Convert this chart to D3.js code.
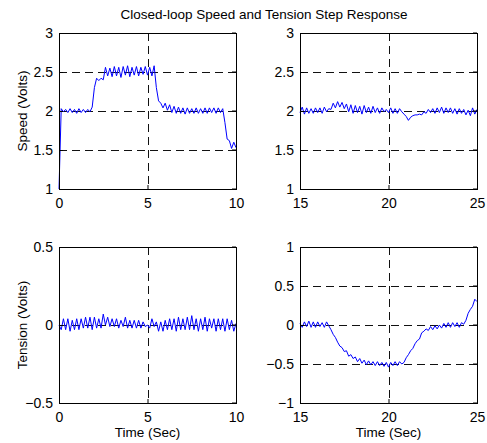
<!DOCTYPE html>
<html>
<head>
  <meta charset="utf-8">
  <title>Closed-loop Speed and Tension Step Response</title>
  <script src="https://d3js.org/d3.v7.min.js"></script>
  <style>
    body { margin: 0; background: #fff; }
    text { font-family: "Liberation Sans", Arial, sans-serif; fill: #000; }
    .grid line { stroke: #111; stroke-dasharray: 8,5; }
  </style>
</head>
<body>
<svg id="chart" width="487" height="443"></svg>
<script>
  // sample spacing (sec) for every trace
  var dt = 0.125;

  // speed, 0..10 s
  var speedA = [1.00, 2.03, 1.99, 2.02, 1.98, 2.03, 1.98, 2.02, 1.97, 2.03,
    1.98, 2.02, 1.98, 2.02, 1.99, 2.05, 2.30, 2.42, 2.39, 2.42,
    2.40, 2.56, 2.45, 2.55, 2.44, 2.57, 2.45, 2.56, 2.43, 2.57,
    2.46, 2.58, 2.44, 2.56, 2.46, 2.57, 2.45, 2.56, 2.47, 2.57,
    2.46, 2.56, 2.45, 2.58, 2.30, 2.13, 2.10, 2.04, 2.10, 2.01,
    2.08, 1.98, 2.06, 1.97, 2.05, 1.97, 2.04, 1.96, 2.04, 1.97,
    2.03, 1.97, 2.04, 1.97, 2.03, 1.97, 2.04, 1.97, 2.04, 1.98,
    2.04, 1.97, 2.04, 1.98, 2.03, 1.85, 1.64, 1.62, 1.52, 1.60, 1.53];

  // speed, 15..25 s
  var speedB = [1.98, 2.05, 1.96, 2.04, 1.97, 2.03, 1.97, 2.04, 1.98, 2.04,
    1.97, 2.05, 1.99, 2.03, 2.02, 2.10, 2.04, 2.12, 2.05, 2.11,
    2.03, 2.09, 1.99, 2.08, 1.97, 2.07, 1.98, 2.06, 1.96, 2.07,
    1.98, 2.05, 1.97, 2.06, 1.98, 2.04, 1.97, 2.04, 1.99, 2.02,
    1.98, 2.04, 1.97, 2.03, 1.97, 2.03, 1.99, 1.96, 1.93, 1.88,
    1.92, 1.94, 1.95, 1.95, 1.96, 1.95, 1.99, 1.97, 2.02, 1.98,
    2.03, 1.97, 2.04, 1.98, 2.05, 1.97, 2.04, 1.98, 2.04, 1.97,
    2.03, 1.96, 2.03, 1.97, 2.02, 1.95, 2.01, 1.94, 2.04, 1.96, 2.02];

  // tension, 0..10 s
  var tensionA = [0.00, -0.03, 0.04, -0.03, 0.04, -0.04, 0.03, -0.03, 0.04, -0.03,
    0.04, -0.02, 0.05, -0.02, 0.05, -0.03, 0.05, -0.02, 0.04, -0.02,
    0.07, 0.00, 0.05, -0.01, 0.04, -0.01, 0.04, -0.02, 0.03, -0.01,
    0.05, -0.02, 0.03, -0.02, 0.03, -0.02, 0.03, -0.02, 0.02, -0.01,
    0.00, -0.02, 0.04, -0.01, 0.02, -0.04, 0.02, -0.04, 0.03, -0.03,
    0.04, -0.03, 0.04, -0.04, 0.05, -0.03, 0.04, -0.03, 0.05, -0.03,
    0.06, -0.03, 0.04, -0.04, 0.04, -0.03, 0.05, -0.04, 0.04, -0.02,
    0.04, -0.04, 0.04, -0.03, 0.04, -0.04, 0.04, -0.03, 0.03, -0.04, 0.01];

  // tension, 15..25 s
  var tensionB = [0.02, -0.03, 0.04, -0.02, 0.05, -0.03, 0.04, -0.03, 0.04, -0.02,
    0.03, -0.03, 0.04, -0.01, -0.06, -0.12, -0.16, -0.22, -0.27, -0.29,
    -0.34, -0.33, -0.40, -0.38, -0.43, -0.41, -0.47, -0.43, -0.49, -0.45,
    -0.51, -0.46, -0.51, -0.47, -0.52, -0.47, -0.52, -0.48, -0.53, -0.48,
    -0.54, -0.48, -0.52, -0.47, -0.52, -0.47, -0.50, -0.48, -0.42, -0.38,
    -0.33, -0.30, -0.24, -0.20, -0.18, -0.10, -0.08, -0.05, -0.07, -0.02,
    -0.06, -0.01, -0.05, 0.00, -0.04, 0.02, -0.03, 0.03, -0.03, 0.03,
    -0.02, 0.03, -0.03, 0.03, 0.01, 0.06, 0.15, 0.20, 0.24, 0.33, 0.30];

  var xTicksA = [0, 5, 10];
  var xTicksB = [15, 20, 25];
  var speedTicks = [1, 1.5, 2, 2.5, 3];
  var tensionTicksA = [-0.5, 0, 0.5];
  var tensionTicksB = [-1, -0.5, 0, 0.5, 1];

  var svg = d3.select("#chart");
  var fmt = d3.format("~g");

  svg.append("text")
    .attr("x", 264).attr("y", 19)
    .attr("text-anchor", "middle")
    .style("font-size", "13.5px")
    .text("Closed-loop Speed and Tension Step Response");

  var panels = [
    { left: 59, top: 33, xd: [0, 10], yd: [1, 3], xt: xTicksA, yt: speedTicks, vals: speedA, t0: 0, ylabel: "Speed (Volts)" },
    { left: 300, top: 33, xd: [15, 25], yd: [1, 3], xt: xTicksB, yt: speedTicks, vals: speedB, t0: 15 },
    { left: 59, top: 247, xd: [0, 10], yd: [-0.5, 0.5], xt: xTicksA, yt: tensionTicksA, vals: tensionA, t0: 0, ylabel: "Tension (Volts)", xlabel: "Time (Sec)" },
    { left: 300, top: 247, xd: [15, 25], yd: [-1, 1], xt: xTicksB, yt: tensionTicksB, vals: tensionB, t0: 15, xlabel: "Time (Sec)" }
  ];

  var w = 177, h = 156;

  panels.forEach(function (p) {
    var g = svg.append("g").attr("transform", "translate(" + p.left + "," + p.top + ")");
    var x = d3.scaleLinear().domain(p.xd).range([0, w]);
    var y = d3.scaleLinear().domain(p.yd).range([h, 0]);

    // dashed grid on inner ticks
    var grid = g.append("g").attr("class", "grid");
    grid.selectAll(".gx").data(p.xt.slice(1, -1)).enter().append("line")
      .attr("x1", function (d) { return Math.round(x(d)) + 0.5; })
      .attr("x2", function (d) { return Math.round(x(d)) + 0.5; })
      .attr("y1", 0).attr("y2", h);
    grid.selectAll(".gy").data(p.yt.slice(1, -1)).enter().append("line")
      .attr("y1", function (d) { return Math.round(y(d)) + 0.5; })
      .attr("y2", function (d) { return Math.round(y(d)) + 0.5; })
      .attr("x1", 0).attr("x2", w);

    // the trace
    var line = d3.line()
      .x(function (d, i) { return x(p.t0 + i * dt); })
      .y(function (d) { return y(d); });
    g.append("path")
      .datum(p.vals)
      .attr("fill", "none")
      .attr("stroke", "#0000ff")
      .attr("stroke-width", 1)
      .attr("d", line);

    // axes with inward ticks
    var xa = g.append("g").attr("transform", "translate(0," + h + ")")
      .call(d3.axisBottom(x).tickValues(p.xt).tickFormat(fmt).tickSizeInner(-4).tickSizeOuter(0).tickPadding(9));
    var ya = g.append("g")
      .call(d3.axisLeft(y).tickValues(p.yt).tickFormat(fmt).tickSizeInner(-4).tickSizeOuter(0).tickPadding(6));
    [xa, ya].forEach(function (a) {
      a.select(".domain").remove();
      a.selectAll(".tick line").attr("stroke", "#000");
      a.selectAll(".tick text").style("font-size", "14px").attr("fill", "#000")
        .style("font-family", "'Liberation Sans', Arial, sans-serif");
    });
    // ticks on the right side too
    g.selectAll(".rt").data(p.yt).enter().append("line")
      .attr("x1", w).attr("x2", w - 4)
      .attr("y1", function (d) { return y(d); }).attr("y2", function (d) { return y(d); })
      .attr("stroke", "#000");

    g.append("rect")
      .attr("x", 0.5).attr("y", 0.5).attr("width", w).attr("height", h)
      .attr("fill", "none").attr("stroke", "#000").attr("stroke-width", 1);

    if (p.ylabel) {
      g.append("text")
        .attr("transform", "translate(" + (-32) + "," + (h / 2) + ") rotate(-90)")
        .attr("text-anchor", "middle")
        .style("font-size", "13.5px")
        .text(p.ylabel);
    }
    if (p.xlabel) {
      g.append("text")
        .attr("x", w / 2).attr("y", h + 34)
        .attr("text-anchor", "middle")
        .style("font-size", "13.5px")
        .text(p.xlabel);
    }
  });
</script>
</body>
</html>
